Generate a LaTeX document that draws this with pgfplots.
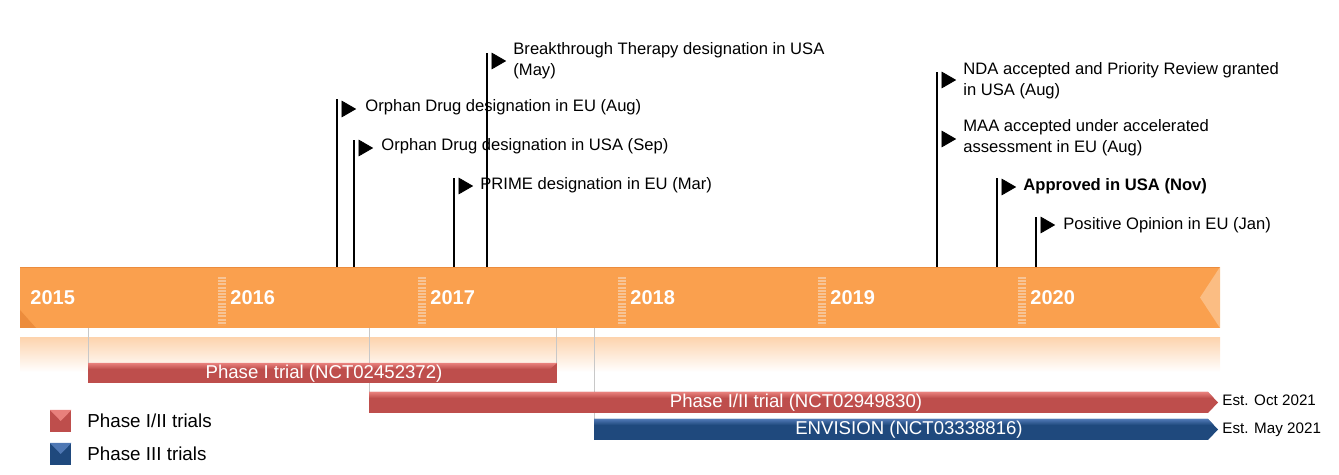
\documentclass[border=0pt]{standalone}
\usepackage{pgfplots}
\pgfplotsset{compat=1.18}
\usepackage{fontspec}
\setmainfont{Liberation Sans}
\definecolor{barorange}{RGB}{250,160,78}
\definecolor{baredge}{RGB}{236,140,60}
\definecolor{sepcol}{RGB}{247,196,150}
\definecolor{reddark}{RGB}{190,78,76}
\definecolor{redlight}{RGB}{232,128,124}
\definecolor{bluedark}{RGB}{31,73,125}
\definecolor{bluelight}{RGB}{79,120,180}
\definecolor{guide}{RGB}{200,200,200}
\newcommand{\ann}{\fontsize{8.3}{10.3}\selectfont}
\newcommand{\barf}{\fontsize{9.3}{11}\selectfont}
\newcommand{\yrf}{\bfseries\fontsize{10}{12}\selectfont}
\begin{document}
\begin{tikzpicture}
\begin{axis}[
  scale only axis, width=669.5pt, height=237.5pt,
  xmin=2014.9, xmax=2021.595, ymin=0, ymax=475, y dir=reverse,
  axis lines=box, axis line style={draw=none}, ticks=none, clip=false]
% frame extent (invisible)
\addplot[draw=none, mark=none] coordinates {(2014.9,0) (2021.595,475)};
% main orange timeline bar
\addplot[fill=barorange, draw=none] coordinates {(2015,267) (2021,267) (2021,328) (2015,328)} -- cycle;
\addplot[baredge, line width=0.6pt] coordinates {(2015,267.5) (2021,267.5)};
\addplot[fill=baredge, draw=none] coordinates {(2015,310) (2015.08,328) (2015,328)} -- cycle;
\addplot[fill=barorange!70!white, draw=none] coordinates {(2021,267) (2020.9,297.5) (2021,328)} -- cycle;
% reflection
\addplot[draw=none, top color=barorange!45!white, bottom color=white] coordinates {(2015,338) (2021,338) (2021,372) (2015,372)} -- cycle;
% year separators
\addplot[sepcol, line width=3.8pt, dash pattern=on 1pt off 0.6pt] coordinates {(2016.01,277) (2016.01,325)};
\addplot[sepcol, line width=3.8pt, dash pattern=on 1pt off 0.6pt] coordinates {(2017.01,277) (2017.01,325)};
\addplot[sepcol, line width=3.8pt, dash pattern=on 1pt off 0.6pt] coordinates {(2018.01,277) (2018.01,325)};
\addplot[sepcol, line width=3.8pt, dash pattern=on 1pt off 0.6pt] coordinates {(2019.01,277) (2019.01,325)};
\addplot[sepcol, line width=3.8pt, dash pattern=on 1pt off 0.6pt] coordinates {(2020.01,277) (2020.01,325)};
% year labels
\node[anchor=west, inner sep=0pt, text=white, font=\yrf] at (axis cs:2015.05,298) {2015};
\node[anchor=west, inner sep=0pt, text=white, font=\yrf] at (axis cs:2016.05,298) {2016};
\node[anchor=west, inner sep=0pt, text=white, font=\yrf] at (axis cs:2017.05,298) {2017};
\node[anchor=west, inner sep=0pt, text=white, font=\yrf] at (axis cs:2018.05,298) {2018};
\node[anchor=west, inner sep=0pt, text=white, font=\yrf] at (axis cs:2019.05,298) {2019};
\node[anchor=west, inner sep=0pt, text=white, font=\yrf] at (axis cs:2020.05,298) {2020};
% guide lines
\addplot[guide, line width=0.5pt] coordinates {(2015.34,328) (2015.34,363)};
\addplot[guide, line width=0.5pt] coordinates {(2016.745,328) (2016.745,392)};
\addplot[guide, line width=0.5pt] coordinates {(2017.68,328) (2017.68,363)};
\addplot[guide, line width=0.5pt] coordinates {(2017.87,328) (2017.87,419)};
% Phase I bar
\addplot[fill=reddark, draw=none] coordinates {(2015.34,363) (2017.685,363) (2017.685,383) (2015.34,383)} -- cycle;
\addplot[draw=none, top color=redlight, bottom color=reddark] coordinates {(2015.34,363) (2017.685,363) (2017.65,369) (2015.34,369)} -- cycle;
\node[text=white, font=\barf] at (axis cs:2016.52,374) {Phase I trial (NCT02452372)};
% Phase I/II bar
\addplot[fill=reddark, draw=none] coordinates {(2016.745,392) (2020.94,392) (2020.99,402.5) (2020.94,413) (2016.745,413)} -- cycle;
\addplot[draw=none, top color=redlight, bottom color=reddark] coordinates {(2016.745,392) (2020.94,392) (2020.968,398) (2016.745,398)} -- cycle;
\node[text=white, font=\barf] at (axis cs:2018.88,402.5) {Phase I/II trial (NCT02949830)};
% ENVISION bar
\addplot[fill=bluedark, draw=none] coordinates {(2017.87,419) (2020.94,419) (2020.99,429.5) (2020.94,440) (2017.87,440)} -- cycle;
\addplot[draw=none, top color=bluelight, bottom color=bluedark] coordinates {(2017.87,419) (2020.94,419) (2020.968,425) (2017.87,425)} -- cycle;
\node[text=white, font=\barf] at (axis cs:2019.445,430) {ENVISION (NCT03338816)};
% estimates
\node[anchor=west, inner sep=0pt, font=\fontsize{7.6}{9}\selectfont] at (axis cs:2021.01,400) {Est. Oct 2021};
\node[anchor=west, inner sep=0pt, font=\fontsize{7.6}{9}\selectfont] at (axis cs:2021.01,430) {Est. May 2021};
% legend
\addplot[fill=reddark, draw=none] coordinates {(2015.15,410) (2015.257,410) (2015.257,432) (2015.15,432)} -- cycle;
\addplot[fill=redlight, draw=none] coordinates {(2015.15,410) (2015.257,410) (2015.2035,421)} -- cycle;
\addplot[fill=bluedark, draw=none] coordinates {(2015.15,443) (2015.257,443) (2015.257,465) (2015.15,465)} -- cycle;
\addplot[fill=bluelight, draw=none] coordinates {(2015.15,443) (2015.257,443) (2015.2035,454)} -- cycle;
\node[anchor=west, inner sep=0pt, font=\fontsize{9.4}{11}\selectfont] at (axis cs:2015.335,421) {Phase I/II trials};
\node[anchor=west, inner sep=0pt, font=\fontsize{9.4}{11}\selectfont] at (axis cs:2015.335,454) {Phase III trials};
% event poles
\addplot[black, line width=1pt] coordinates {(2016.585,267) (2016.585,99)};
\addplot[black, line width=1pt] coordinates {(2016.67,267) (2016.67,140)};
\addplot[black, line width=1pt] coordinates {(2017.17,267) (2017.17,178)};
\addplot[black, line width=1pt] coordinates {(2017.335,267) (2017.335,53)};
\addplot[black, line width=1pt] coordinates {(2019.585,267) (2019.585,72)};
\addplot[black, line width=1pt] coordinates {(2019.885,267) (2019.885,178)};
\addplot[black, line width=1pt] coordinates {(2020.08,267) (2020.08,217)};
% flags
\addplot[only marks, mark=triangle*, mark size=4.5pt, mark options={rotate=-90, fill=black, draw=black}] coordinates {
 (2016.632,109) (2016.717,148) (2017.217,186) (2017.382,61) (2019.632,80) (2019.632,139) (2019.932,187) (2020.127,225)};
% annotations
\node[anchor=west, inner sep=0pt, align=left, font=\ann] at (axis cs:2017.465,61) {Breakthrough Therapy designation in USA\\(May)};
\node[anchor=west, inner sep=0pt, font=\ann] at (axis cs:2016.725,107.5) {Orphan Drug designation in EU (Aug)};
\node[anchor=west, inner sep=0pt, font=\ann] at (axis cs:2016.805,146.5) {Orphan Drug designation in USA (Sep)};
\node[anchor=west, inner sep=0pt, font=\ann] at (axis cs:2017.30,185) {PRIME designation in EU (Mar)};
\node[anchor=west, inner sep=0pt, align=left, font=\ann] at (axis cs:2019.715,80.5) {NDA accepted and Priority Review granted\\in USA (Aug)};
\node[anchor=west, inner sep=0pt, align=left, font=\ann] at (axis cs:2019.715,138) {MAA accepted under accelerated\\assessment in EU (Aug)};
\node[anchor=west, inner sep=0pt, font=\ann\bfseries] at (axis cs:2020.015,186) {Approved in USA (Nov)};
\node[anchor=west, inner sep=0pt, font=\ann] at (axis cs:2020.215,225.5) {Positive Opinion in EU (Jan)};
\end{axis}
\end{tikzpicture}
\end{document}
